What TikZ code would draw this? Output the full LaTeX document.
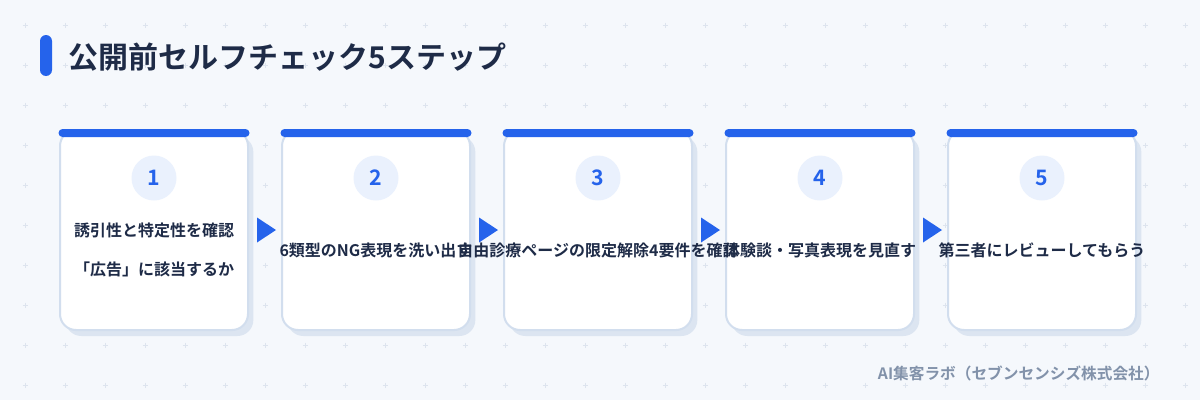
\documentclass[tikz,border=0pt]{standalone}
\usepackage{fontspec}
\setmainfont{Noto Sans CJK JP}[BoldFont={Noto Sans CJK JP Bold}]
\usetikzlibrary{calc,shadows}

\definecolor{bgpaper}{HTML}{F5F8FC}
\definecolor{stepblue}{HTML}{2563EB}
\definecolor{inknavy}{HTML}{1E2B47}
\definecolor{cardline}{HTML}{D2DEEE}
\definecolor{cardshade}{HTML}{DCE5F1}
\definecolor{badgefill}{HTML}{EAF1FD}
\definecolor{gridplus}{HTML}{DDE4EE}
\definecolor{footgrey}{HTML}{8292AA}

\tikzset{every picture/.style={line width=0.75pt}}
\tikzset{
  cardbox/.style={draw=cardline, fill=white, line width=1.5pt, rounded corners=12pt,
    minimum width=141pt, minimum height=150pt, inner sep=0pt,
    drop shadow={shadow xshift=4pt, shadow yshift=-4.5pt, fill=cardshade, opacity=1}},
  badge/.style={circle, fill=badgefill, minimum size=33.75pt, inner sep=0pt,
    text=stepblue, font=\bfseries\fontsize{16}{18}\selectfont},
  steptext/.style={text=inknavy, inner sep=0pt, align=center,
    font=\bfseries\fontsize{12}{29.25}\selectfont},
}

\begin{document}
\begin{tikzpicture}[x=0.75pt,y=0.75pt,yscale=-1,xscale=1]
	\useasboundingbox[fill=bgpaper] (0,0) rectangle (1200,400);

	%Grid of small plus marks
	\foreach \gx in {0,...,29}
	\foreach \gy in {0,...,9}
	\draw [gridplus, line width=0.6pt] (25+40*\gx-2.5,25+40*\gy) -- ++(5,0) (25+40*\gx,25+40*\gy-2.5) -- ++(0,5) ;

	%Title bar
	\fill [stepblue, rounded corners=4.5pt] (40,35) rectangle (52,76) ;
	% Text Node
	\node [anchor=west, inner sep=0pt, text=inknavy, font=\bfseries\fontsize{22.5}{26}\selectfont] (title) at (68,57.5) {公開前セルフチェック5ステップ};

	%Cards with top bar and number badge
	\foreach \k in {1,...,5}{
		\node [cardbox] (card\k) at (154+222*\k-222,230) {};
		\fill [stepblue, rounded corners=3pt] ($(card\k.north west)+(-0.5,0)$) rectangle ($(card\k.north east)+(0.5,8)$) ;
		\node [badge] (badge\k) at (154+222*\k-222,178) {\k};
	}

	%Arrow heads between cards
	\foreach \k in {1,...,4}
	\fill [stepblue] ($(card\k.east)+(8,-12.5)$) -- ($(card\k.east)+(27,0)$) -- ($(card\k.east)+(8,12.5)$) -- cycle ;

	% Text Node
	\node [steptext] (text1) at (154,249.5) {誘引性と特定性を確認\\「広告」に該当するか};
	% Text Node
	\node [steptext] (text2) at (376,250) {6類型のNG表現を洗い出す};
	% Text Node
	\node [steptext] (text3) at (598,250) {自由診療ページの限定解除4要件を確認};
	% Text Node
	\node [steptext] (text4) at (820,250) {体験談・写真表現を見直す};
	% Text Node
	\node [steptext] (text5) at (1042,250) {第三者にレビューしてもらう};

	% Text Node
	\node [anchor=east, inner sep=0pt, text=footgrey, font=\bfseries\fontsize{11.75}{13}\selectfont] (credit) at (1160,373) {AI集客ラボ（セブンセンシズ株式会社）};

\end{tikzpicture}
\end{document}
